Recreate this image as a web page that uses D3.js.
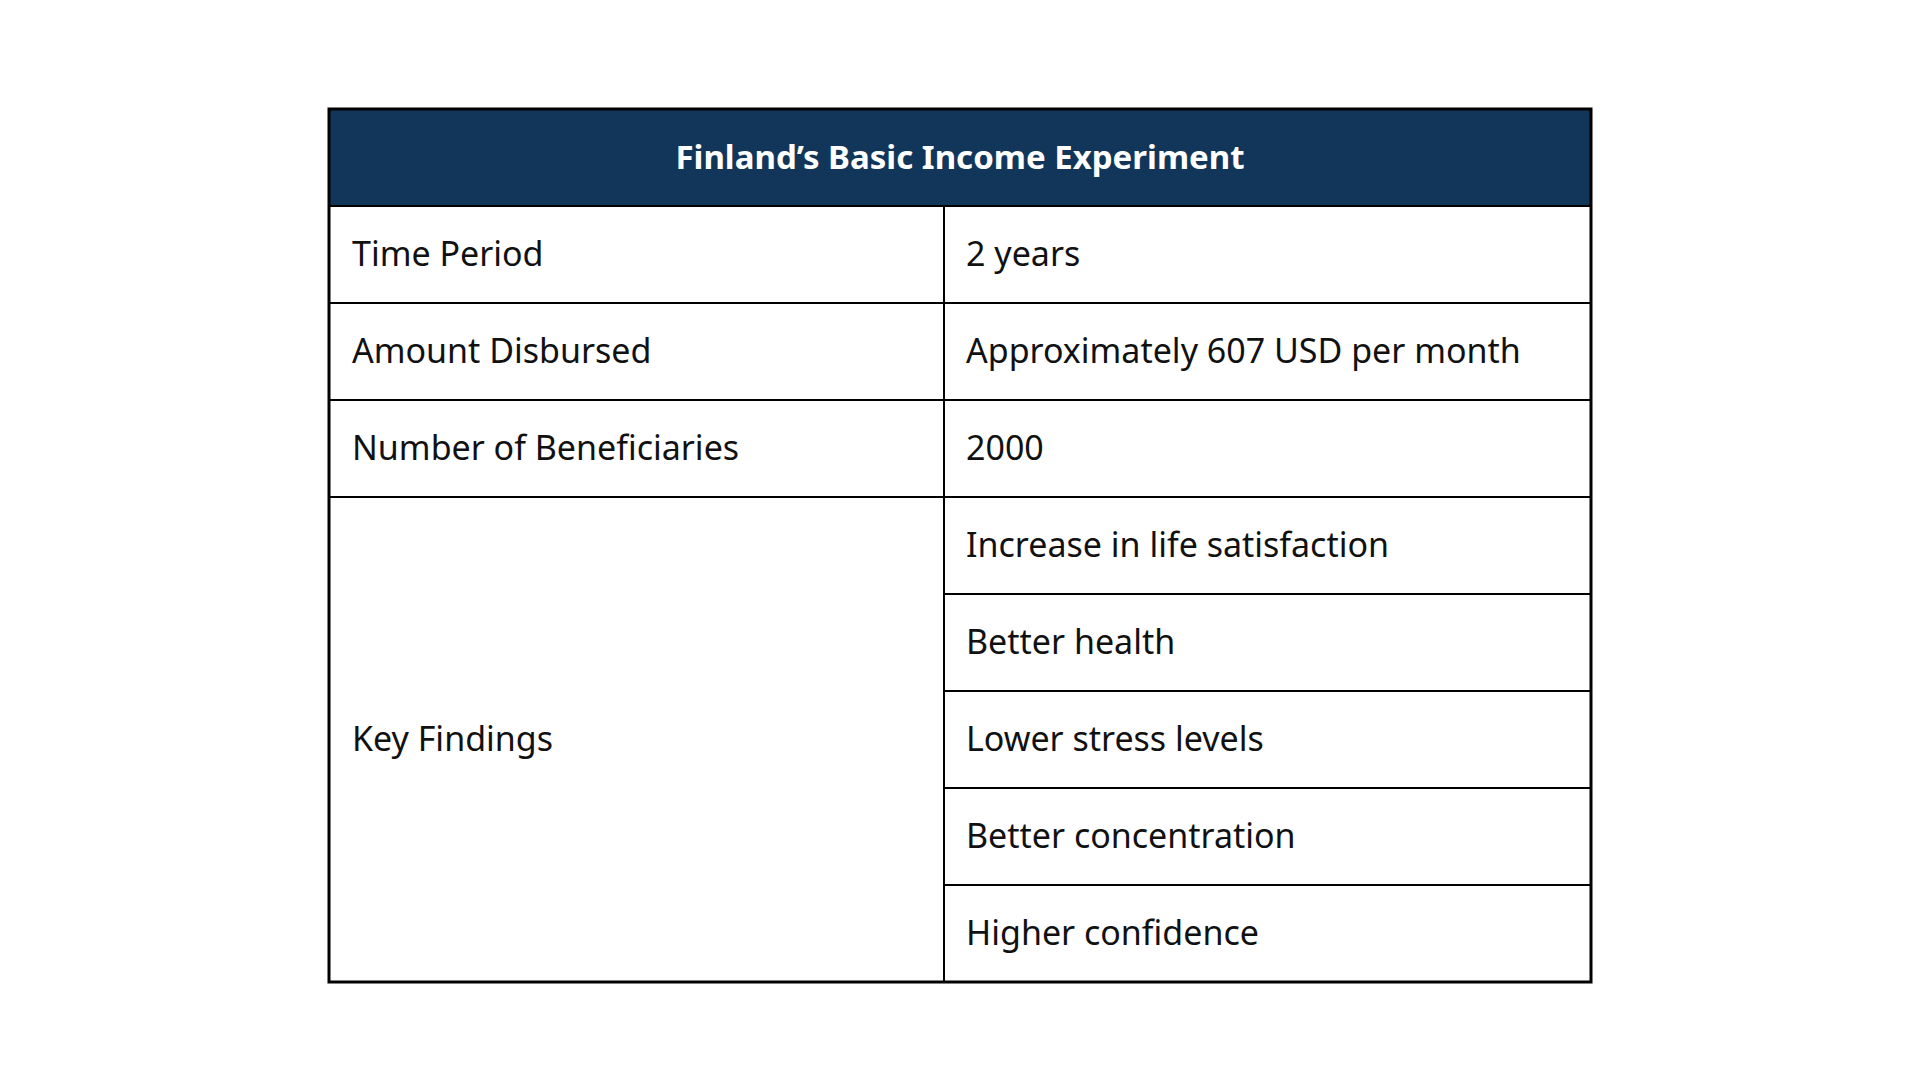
<!DOCTYPE html>
<html><head><meta charset="utf-8">
<script src="https://cdn.jsdelivr.net/npm/d3@7"></script>
<style>body{margin:0;background:#fff}</style>
</head><body>
<svg width="1920" height="1080"></svg>
<script>
const title = "Finland’s Basic Income Experiment";
const labels = ["Time Period", "Amount Disbursed", "Number of Beneficiaries", "Key Findings"];
const values = [["2 years"], ["Approximately 607 USD per month"], ["2000"],
  ["Increase in life satisfaction", "Better health", "Lower stress levels", "Better concentration", "Higher confidence"]];

const svg = d3.select("svg");
const tLeft = 329, tRight = 1591, split = 944, tTop = 109, tBottom = 982;
const nRows = 1 + d3.sum(values, v => v.length);
const y = d3.scaleLinear().domain([0, nRows]).range([tTop, tBottom]);
const font = "'Noto Sans', sans-serif";

// header
svg.append("rect").attr("x", tLeft).attr("y", y(0)).attr("width", tRight - tLeft).attr("height", y(1) - y(0)).attr("fill", "#12365a");
svg.append("text").attr("x", (tLeft + tRight) / 2).attr("y", (y(0) + y(1)) / 2).attr("dy", "0.35em")
  .attr("text-anchor", "middle").attr("fill", "#fff").attr("font-family", font).attr("font-weight", "bold")
  .attr("font-size", 33).text(title);

let r = 1;
labels.forEach((lab, i) => {
  const start = r, end = r + values[i].length;
  svg.append("rect").attr("x", tLeft).attr("y", y(start)).attr("width", split - tLeft).attr("height", y(end) - y(start))
    .attr("fill", "none").attr("stroke", "#000").attr("stroke-width", 2);
  svg.append("text").attr("x", tLeft + 23).attr("y", (y(start) + y(end)) / 2).attr("dy", "0.35em")
    .attr("font-family", font).attr("font-size", 34).attr("fill", "#111").text(lab);
  values[i].forEach((v, j) => {
    const a = start + j;
    svg.append("rect").attr("x", split).attr("y", y(a)).attr("width", tRight - split).attr("height", y(a + 1) - y(a))
      .attr("fill", "none").attr("stroke", "#000").attr("stroke-width", 2);
    svg.append("text").attr("x", split + 22).attr("y", (y(a) + y(a + 1)) / 2).attr("dy", "0.35em")
      .attr("font-family", font).attr("font-size", 34).attr("fill", "#111").text(v);
  });
  r = end;
});
svg.append("rect").attr("x", tLeft).attr("y", tTop).attr("width", tRight - tLeft).attr("height", tBottom - tTop)
  .attr("fill", "none").attr("stroke", "#000").attr("stroke-width", 3);
</script>
</body></html>
